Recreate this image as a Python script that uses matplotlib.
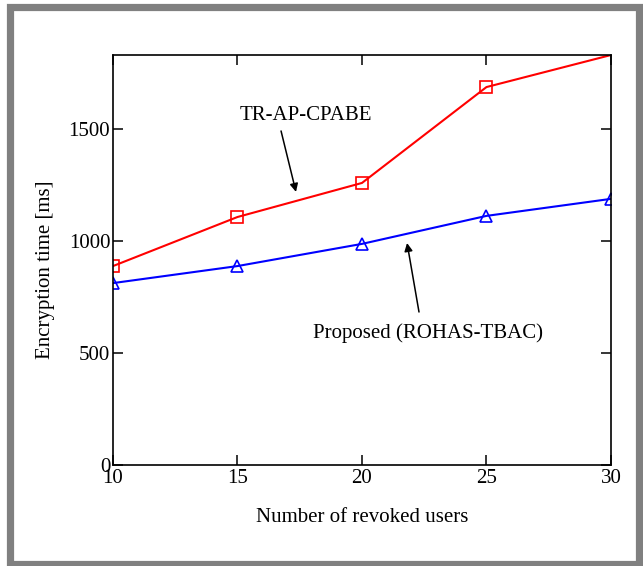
import matplotlib.pyplot as plt
from matplotlib.patches import Rectangle

# data
users = [10, 15, 20, 25, 30]
tr_ap_cpabe = [888, 1107, 1259, 1687, 1830]
proposed = [812, 888, 987, 1112, 1188]

plt.rcParams['font.family'] = ['Liberation Serif', 'DejaVu Serif']
plt.rcParams['font.size'] = 15

fig = plt.figure(figsize=(6.43, 5.66), dpi=100)
ax = fig.add_axes([0.1757, 0.1784, 0.7745, 0.7244])

# red line: last marker sits on the frame and is not drawn in the reference
ax.plot(users, tr_ap_cpabe, color='red', lw=1.5, marker='s', markersize=9,
        markerfacecolor='none', markeredgewidth=1.2, markevery=[0, 1, 2, 3])
ax.plot(users, proposed, color='blue', lw=1.5, marker='^', markersize=8,
        markerfacecolor='none', markeredgewidth=1.2)

ax.set_xlim(10, 30)
ax.set_ylim(0, 1830)
ax.set_xticks([10, 15, 20, 25, 30])
ax.set_yticks([0, 500, 1000, 1500])
ax.tick_params(direction='in', length=7, width=1.1, top=True, right=True, pad=3)
ax.tick_params(axis='y', pad=2)
for s in ax.spines.values():
    s.set_linewidth(1.2)

ax.set_xlabel('Number of revoked users', va='center')
ax.xaxis.set_label_coords(0.5, -0.129)
ax.set_ylabel('Encryption time [ms]', va='center')
ax.yaxis.set_label_coords(-0.135, 0.4756)

# annotations
ax.text(17.75, 1558, 'TR-AP-CPABE', ha='center', va='center')
ax.annotate('', xy=(17.35, 1219), xytext=(16.75, 1491),
            arrowprops=dict(arrowstyle='-|>', color='black', lw=1.1, mutation_scale=12,
                            shrinkA=0, shrinkB=0))
ax.text(22.65, 589, 'Proposed (ROHAS-TBAC)', ha='center', va='center')
ax.annotate('', xy=(21.81, 991), xytext=(22.29, 683),
            arrowprops=dict(arrowstyle='-|>', color='black', lw=1.1, mutation_scale=12,
                            shrinkA=0, shrinkB=0))

# grey frame around the figure
fig.patches.append(Rectangle((9.5 / 643, 1 - 564 / 566), 629.5 / 643, 557 / 566,
                             transform=fig.transFigure, fill=False,
                             edgecolor='#808080', linewidth=5.2))

fig.savefig('out.png', dpi=100)
